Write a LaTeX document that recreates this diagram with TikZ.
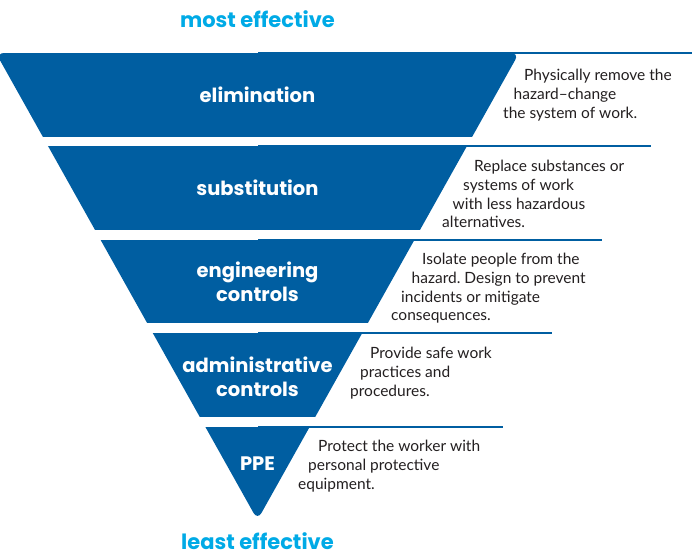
\documentclass[tikz,border=0pt]{standalone}
\usepackage{fontspec}
\setmainfont{Lato}
\newfontfamily\headfont{Poppins}
\definecolor{hazblue}{RGB}{0,94,161}
\definecolor{effblue}{RGB}{0,170,230}
\definecolor{bodytext}{RGB}{35,31,32}
\frenchspacing

\begin{document}
\begin{tikzpicture}[x=1pt,y=1pt]
%\draw[help lines,step=50] (0,0) grid (692,555);
\tikzstyle{band}=[fill=hazblue]
\tikzstyle{level}=[text=white,font=\headfont\bfseries\fontsize{19.5}{24}\selectfont,align=center,inner sep=0]
\tikzstyle{desc}=[text=bodytext,font=\fontsize{15.5}{18.7}\selectfont,align=left,anchor=north west,inner sep=0]
\tikzstyle{tag}=[text=effblue,font=\headfont\bfseries\fontsize{21}{24}\selectfont,inner sep=0]
\tikzstyle{rule}=[draw=hazblue,line width=2pt]

\useasboundingbox (0,0) rectangle (692,555);

% rules running out to the right of each band
\coordinate (r1) at (692,502);
\coordinate (r2) at (651,409);
\coordinate (r3) at (602,315);
\coordinate (r4) at (552,222);
\coordinate (r5) at (503,128);
\draw[rule] (258,502) -- (r1);
\draw[rule] (258,409) -- (r2);
\draw[rule] (258,315) -- (r3);
\draw[rule] (258,222) -- (r4);
\draw[rule] (258,128) -- (r5);

% the funnel, cut into bands
\begin{scope}
\clip[rounded corners=8pt] (-4.1,502) -- (519.1,502) -- (257.5,35) -- cycle;
\fill[band] (-10,418) rectangle (530,502);
\fill[band] (-10,325) rectangle (530,409);
\fill[band] (-10,232) rectangle (530,315);
\fill[band] (-10,138) rectangle (530,222);
\fill[band] (-10,20) rectangle (530,128);
\end{scope}

\node[tag,anchor=base] (most) at (257.5,527) {most effective};
\node[tag,anchor=base] (least) at (257.5,6) {least effective};

\node[level] (elim) at (257.5,460) {elimination};
\node[level] (subst) at (257.5,367) {substitution};
\node[level] (eng) at (257.5,273) {engineering\\controls};
\node[level] (admin) at (257.5,178) {administrative\\controls};
\node[level] (ppe) at (257.5,91) {PPE};

\node[desc] (elimtxt) at (503,486) {\hspace*{21pt}Physically remove the\\\hspace*{10.5pt}hazard--change\\the system of work.};
\node[desc] (substtxt) at (442,395) {\hspace*{32pt}Replace substances or\\\hspace*{21pt}systems of work\\\hspace*{10.5pt}with less hazardous\\alternatives.};
\node[desc] (engtxt) at (391,302) {\hspace*{31pt}Isolate people from the\\\hspace*{20.5pt}hazard. Design to prevent\\\hspace*{10pt}incidents or mitigate\\consequences.};
\node[desc] (admintxt) at (350,208) {\hspace*{20pt}Provide safe work\\\hspace*{10pt}practices and\\procedures.};
\node[desc] (ppetxt) at (298,115) {\hspace*{20pt}Protect the worker with\\\hspace*{10pt}personal protective\\equipment.};
\end{tikzpicture}
\end{document}
